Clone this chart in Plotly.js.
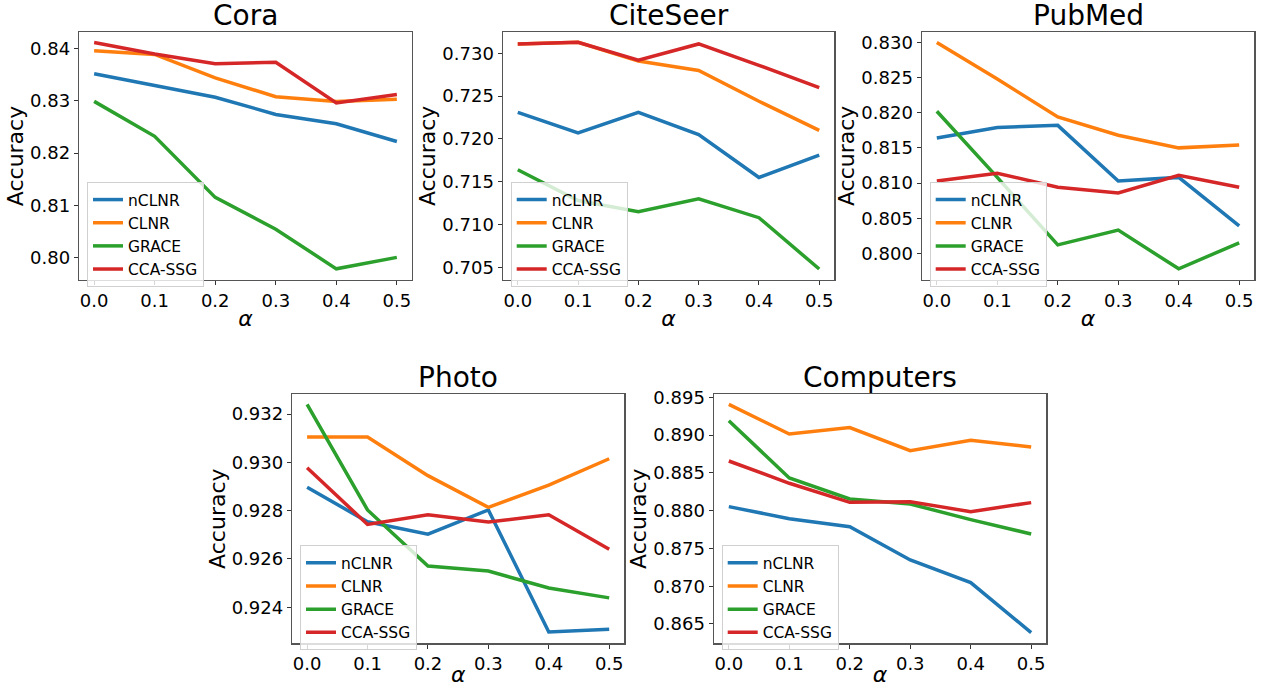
<!DOCTYPE html>
<html>
<head>
<meta charset="utf-8">
<script src="https://cdn.plot.ly/plotly-3.0.1.min.js"></script>
<style>html,body{margin:0;padding:0;background:#fff;}#chart{width:1263px;height:687px;}</style>
</head>
<body>
<div id="chart"></div>
<script>
// ---- data ----
const alpha = [0.0, 0.1, 0.2, 0.3, 0.4, 0.5];
const methods = ["nCLNR", "CLNR", "GRACE", "CCA-SSG"];
const datasets = ["Cora", "CiteSeer", "PubMed", "Photo", "Computers"];

const cora_nCLNR   = [0.8352, 0.8330, 0.8307, 0.8274, 0.8256, 0.8222];
const cora_CLNR    = [0.8396, 0.8389, 0.8344, 0.8308, 0.8299, 0.8303];
const cora_GRACE   = [0.8299, 0.8232, 0.8115, 0.8054, 0.7978, 0.8000];
const cora_CCASSG  = [0.8412, 0.8390, 0.8371, 0.8374, 0.8296, 0.8312];

const citeseer_nCLNR  = [0.7231, 0.7207, 0.7231, 0.7205, 0.7155, 0.7181];
const citeseer_CLNR   = [0.7311, 0.7313, 0.7291, 0.7280, 0.7244, 0.7210];
const citeseer_GRACE  = [0.7164, 0.7128, 0.7115, 0.7130, 0.7108, 0.7048];
const citeseer_CCASSG = [0.7311, 0.7313, 0.7292, 0.7311, 0.7286, 0.7260];

const pubmed_nCLNR  = [0.8164, 0.8179, 0.8182, 0.8103, 0.8108, 0.8039];
const pubmed_CLNR   = [0.8300, 0.8248, 0.8194, 0.8168, 0.8150, 0.8154];
const pubmed_GRACE  = [0.8202, 0.8108, 0.8012, 0.8033, 0.7978, 0.8015];
const pubmed_CCASSG = [0.8103, 0.8114, 0.8094, 0.8086, 0.8111, 0.8094];

const photo_nCLNR  = [0.92897, 0.92754, 0.92703, 0.92803, 0.92298, 0.92309];
const photo_CLNR   = [0.93105, 0.93105, 0.92945, 0.92814, 0.92906, 0.93015];
const photo_GRACE  = [0.93240, 0.92803, 0.92571, 0.92550, 0.92480, 0.92439];
const photo_CCASSG = [0.92978, 0.92743, 0.92783, 0.92753, 0.92783, 0.92640];

const computers_nCLNR  = [0.88053, 0.87894, 0.87788, 0.87347, 0.87047, 0.86385];
const computers_CLNR   = [0.89407, 0.89015, 0.89100, 0.88794, 0.88931, 0.88843];
const computers_GRACE  = [0.89191, 0.88432, 0.88154, 0.88088, 0.87881, 0.87691];
const computers_CCASSG = [0.88657, 0.88362, 0.88110, 0.88119, 0.87987, 0.88106];

const yTicks_cora = [0.80, 0.81, 0.82, 0.83, 0.84];
const yTicks_citeseer = [0.705, 0.710, 0.715, 0.720, 0.725, 0.730];
const yTicks_pubmed = [0.800, 0.805, 0.810, 0.815, 0.820, 0.825, 0.830];
const yTicks_photo = [0.924, 0.926, 0.928, 0.930, 0.932];
const yTicks_computers = [0.865, 0.870, 0.875, 0.880, 0.885, 0.890, 0.895];
const xTicks = [0.0, 0.1, 0.2, 0.3, 0.4, 0.5];

// ---- build ----
const series = [
  [cora_nCLNR, cora_CLNR, cora_GRACE, cora_CCASSG],
  [citeseer_nCLNR, citeseer_CLNR, citeseer_GRACE, citeseer_CCASSG],
  [pubmed_nCLNR, pubmed_CLNR, pubmed_GRACE, pubmed_CCASSG],
  [photo_nCLNR, photo_CLNR, photo_GRACE, photo_CCASSG],
  [computers_nCLNR, computers_CLNR, computers_GRACE, computers_CCASSG]
];
const yTicks = [yTicks_cora, yTicks_citeseer, yTicks_pubmed, yTicks_photo, yTicks_computers];
const yFmt = [".2f", ".3f", ".3f", ".3f", ".3f"];
const yRanges = [[0.79566, 0.8432], [0.70352, 0.73253], [0.79621, 0.83152], [0.92251, 0.93283], [0.86244, 0.89544]];
const colors = ["#1f77b4", "#ff7f0e", "#2ca02c", "#d62728"];

const W = 1263, H = 687;
// plot boxes in pixels [left, right, top, bottom]
const boxes = [
  [79, 412, 32, 280],
  [502.7, 834.3, 31.7, 280],
  [921.7, 1254.3, 31.7, 280],
  [292, 624.3, 394, 643.3],
  [713.7, 1046.3, 394, 643.3]
];
const titleY = [15, 15, 15, 378, 378];

const FONT = "DejaVu Sans";
const traces = [];
const layout = {
  width: W, height: H,
  margin: {l: 0, r: 0, t: 0, b: 0},
  paper_bgcolor: "#ffffff",
  plot_bgcolor: "#ffffff",
  font: {family: FONT, color: "#000"},
  annotations: [],
  showlegend: true
};

datasets.forEach((name, i) => {
  const n = i + 1;
  const xa = "x" + (n === 1 ? "" : n), ya = "y" + (n === 1 ? "" : n);
  const lg = "legend" + (n === 1 ? "" : n);
  const b = boxes[i];
  methods.forEach((m, j) => {
    traces.push({
      x: alpha, y: series[i][j], type: "scatter", mode: "lines", name: m,
      xaxis: xa, yaxis: ya, legend: lg,
      line: {color: colors[j], width: 3.5}
    });
  });
  const axCommon = {
    showgrid: false, zeroline: false, showline: true, mirror: true,
    linecolor: "#555", linewidth: 1.2, ticks: "outside", ticklen: 4, tickcolor: "#333",
    tickfont: {family: FONT, size: 18, color: "#000"}
  };
  layout["xaxis" + (n === 1 ? "" : n)] = Object.assign({}, axCommon, {
    domain: [b[0] / W, b[1] / W], anchor: ya,
    range: [-0.025, 0.525], tickvals: xTicks, tickformat: ".1f",
    title: {text: "<i>α</i>", font: {family: FONT, size: 22}, standoff: 0}
  });
  layout["yaxis" + (n === 1 ? "" : n)] = Object.assign({}, axCommon, {
    domain: [1 - b[3] / H, 1 - b[2] / H], anchor: xa,
    range: yRanges[i], tickvals: yTicks[i], tickformat: yFmt[i],
    title: {text: "Accuracy", font: {family: FONT, size: 22}, standoff: 0}
  });
  layout[lg] = {
    x: (b[0] + 8) / W, y: 1 - (b[3] - 98) / H,
    xref: "paper", yref: "paper", xanchor: "left", yanchor: "top",
    bgcolor: "rgba(255,255,255,0.8)", bordercolor: "#d0d0d0", borderwidth: 1,
    font: {family: FONT, size: 15.5, color: "#000"},
    tracegroupgap: 0, itemwidth: 30
  };
  layout.annotations.push({
    text: name, xref: "paper", yref: "paper",
    x: ((b[0] + b[1]) / 2) / W, y: 1 - titleY[i] / H,
    xanchor: "center", yanchor: "middle", showarrow: false,
    font: {family: FONT, size: 28, color: "#000"}
  });
});

Plotly.newPlot("chart", traces, layout, {displayModeBar: false, staticPlot: true});
</script>
</body>
</html>
